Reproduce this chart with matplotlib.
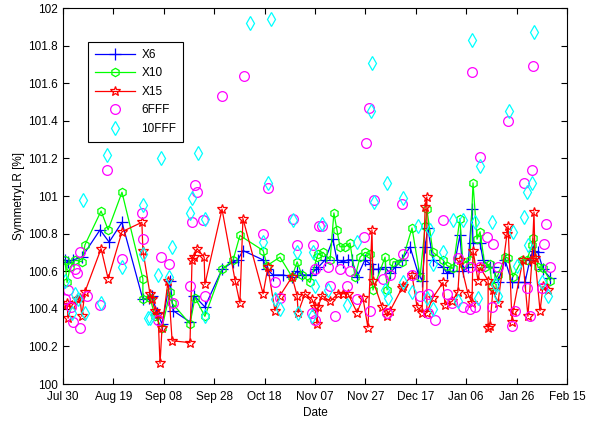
import numpy as np
import pandas as pd
import matplotlib
matplotlib.use('Agg')
from matplotlib import pyplot as plt
import matplotlib.dates as mdates

plt.rcParams['font.family'] = ['Liberation Sans', 'DejaVu Sans']
plt.rcParams['font.size'] = 8.5

start = pd.Timestamp('2013-07-30')

# days after Jul 30, value
x6_days = [0.8, 2.0, 4.0, 7.5, 14.7, 18.3, 23.4, 31.7, 34.1, 35.3, 37.3, 39.3, 42.5, 43.7,
           50.4, 52.0, 56.3, 63.1, 67.5, 69.4, 71.4, 79.4, 81.0, 83.3, 87.3, 90.9, 92.9, 94.8,
           98.0, 100.4, 101.2, 104.0, 107.1, 108.7, 111.1, 113.1, 114.7, 116.7, 119.8, 121.8,
           123.0, 125.0, 127.8, 129.8, 131.7, 134.5, 137.7, 140.9, 142.5, 143.7, 144.8, 146.8,
           150.8, 152.4, 154.8, 157.5, 158.7, 160.7, 162.3, 162.7, 165.5, 166.7, 169.4, 170.6,
           172.6, 175.4, 178.2, 180.6, 183.3, 185.3, 186.5, 188.5, 190.5, 193.3]
x6_vals = [100.66, 100.65, 100.66, 100.675, 100.82, 100.755, 100.86, 100.45, 100.46, 100.47,
           100.38, 100.32, 100.55, 100.39, 100.33, 100.47, 100.41, 100.61, 100.65, 100.66,
           100.71, 100.66, 100.61, 100.58, 100.58, 100.57, 100.60, 100.58, 100.58, 100.61,
           100.62, 100.66, 100.77, 100.66, 100.65, 100.66, 100.66, 100.57, 100.66, 100.64,
           100.61, 100.61, 100.62, 100.59, 100.62, 100.66, 100.73, 100.59, 100.55, 100.73,
           100.83, 100.66, 100.62, 100.59, 100.60, 100.79, 100.60, 100.62, 100.93, 100.75,
           100.75, 100.66, 100.62, 100.62, 100.54, 100.66, 100.54, 100.54, 100.54, 100.66,
           100.71, 100.70, 100.61, 100.565]

x10_days = [0.8, 1.6, 2.8, 4.8, 7.5, 8.7, 15.1, 17.9, 23.4, 31.7, 31.7, 34.5, 36.5, 39.3,
            42.5, 43.3, 50.4, 52.4, 56.3, 63.1, 67.5, 70.2, 79.4, 81.0, 86.1, 90.9, 92.9,
            94.8, 98.0, 100.8, 101.2, 103.2, 106.0, 107.5, 108.7, 109.9, 111.9, 113.9, 115.9,
            117.9, 119.8, 121.8, 123.0, 127.8, 128.6, 131.0, 134.5, 138.5, 141.7, 143.7,
            144.4, 146.8, 150.8, 152.4, 154.8, 157.5, 158.7, 161.5, 162.7, 164.3, 165.5,
            167.5, 169.4, 170.2, 172.6, 175.4, 176.6, 178.6, 182.1, 184.1, 186.1, 186.5,
            188.5, 190.5, 193.3]
x10_vals = [100.66, 100.54, 100.62, 100.66, 100.65, 100.74, 100.92, 100.82, 101.02, 100.56,
            100.45, 100.46, 100.36, 100.30, 100.49, 100.43, 100.32, 100.46, 100.36, 100.61,
            100.66, 100.79, 100.71, 100.63, 100.675, 100.57, 100.65, 100.58, 100.54, 100.675,
            100.69, 100.70, 100.66, 100.91, 100.82, 100.73, 100.73, 100.75, 100.57, 100.675,
            100.70, 100.69, 100.50, 100.675, 100.50, 100.65, 100.65, 100.83, 100.57, 100.84,
            100.93, 100.70, 100.66, 100.63, 100.615, 100.88, 100.64, 100.66, 101.07, 100.77,
            100.81, 100.62, 100.64, 100.52, 100.58, 100.675, 100.67, 100.57, 100.66, 100.66,
            100.74, 100.775, 100.62, 100.615, 100.55]

x15_days = [0.0, 1.6, 2.0, 3.6, 5.6, 6.7, 7.5, 8.7, 15.1, 17.9, 23.4, 31.3, 31.7, 34.5,
            35.3, 36.5, 37.7, 38.5, 39.3, 41.7, 43.3, 50.4, 51.2, 52.0, 53.2, 56.0, 56.3,
            63.1, 68.3, 70.2, 71.4, 79.4, 81.3, 84.1, 86.1, 90.9, 92.9, 93.3, 96.0, 98.8,
            100.0, 100.8, 101.2, 102.8, 106.0, 109.1, 111.1, 113.1, 116.7, 119.0, 121.0,
            122.6, 123.0, 126.6, 128.6, 129.8, 134.5, 134.9, 138.5, 140.5, 142.5, 143.7,
            144.4, 144.4, 146.8, 150.8, 151.6, 154.4, 156.7, 157.5, 160.7, 162.3, 162.7,
            164.7, 165.5, 168.7, 168.7, 169.4, 170.6, 172.6, 176.2, 176.6, 178.2, 178.6,
            182.5, 184.5, 186.1, 186.9, 187.3, 189.3, 190.5, 192.5]
x15_vals = [100.42, 100.43, 100.35, 100.42, 100.45, 100.46, 100.36, 100.49, 100.72, 100.56,
            100.81, 100.86, 100.71, 100.48, 100.45, 100.39, 100.37, 100.11, 100.30, 100.55,
            100.23, 100.22, 100.66, 100.675, 100.72, 100.675, 100.53, 100.93, 100.55, 100.43,
            100.88, 100.48, 100.62, 100.39, 100.47, 100.57, 100.47, 100.38, 100.48, 100.45,
            100.41, 100.32, 100.41, 100.47, 100.44, 100.48, 100.48, 100.48, 100.38, 100.46,
            100.30, 100.82, 100.55, 100.41, 100.36, 100.39, 100.51, 100.52, 100.58, 100.41,
            100.38, 100.94, 100.995, 100.38, 100.46, 100.54, 100.42, 100.44, 100.49, 100.66,
            100.48, 100.43, 100.71, 100.55, 100.62, 100.55, 100.30, 100.31, 100.50, 100.43,
            100.80, 100.84, 100.33, 100.39, 100.66, 100.36, 100.66, 100.915, 100.67, 100.39,
            100.52, 100.50]

fff6_days = [0.8, 2.0, 3.2, 4.0, 4.8, 5.6, 6.7, 6.7, 9.5, 14.7, 17.5, 23.4, 31.3, 31.7,
             37.7, 38.9, 42.1, 43.7, 50.4, 51.2, 52.4, 53.2, 55.6, 56.3, 63.1, 71.8, 79.4,
             81.3, 84.1, 86.1, 91.3, 92.9, 98.8, 99.2, 100.0, 100.0, 101.6, 102.8, 105.2,
             106.0, 107.9, 109.9, 112.7, 113.9, 116.7, 119.4, 120.2, 121.4, 121.8, 123.4,
             127.0, 128.6, 129.8, 134.5, 134.9, 138.5, 141.7, 144.8, 144.8, 147.6, 150.8,
             152.4, 154.4, 156.7, 158.7, 161.5, 161.5, 162.3, 163.5, 165.5, 165.5, 168.3,
             170.2, 170.6, 172.6, 176.6, 178.2, 179.4, 182.9, 184.1, 185.3, 186.1, 186.5,
             190.1, 190.9, 191.7, 193.3]
fff6_vals = [100.45, 100.50, 100.41, 100.33, 100.61, 100.59, 100.30, 100.70, 100.47, 100.42,
             101.14, 100.665, 100.91, 100.77, 100.34, 100.675, 100.64, 100.43, 100.52, 100.86,
             101.06, 101.02, 100.87, 100.47, 101.53, 101.64, 100.80, 101.04, 100.54, 100.46,
             100.88, 100.74, 100.38, 100.74, 100.61, 100.34, 100.84, 100.84, 100.62, 100.52,
             100.36, 100.61, 100.52, 100.60, 100.45, 100.78, 101.28, 101.47, 100.39, 100.98,
             100.56, 100.38, 100.58, 100.96, 100.69, 100.58, 100.47, 100.48, 100.38, 100.34,
             100.87, 100.48, 100.43, 100.67, 100.41, 100.62, 100.40, 101.66, 100.41, 101.21,
             100.62, 100.78, 100.41, 100.745, 100.62, 101.40, 100.31, 100.39, 101.07, 100.51,
             100.36, 101.14, 101.69, 100.51, 100.745, 100.85, 100.62]

fff10_days = [0.8, 3.6, 4.8, 6.0, 7.9, 8.7, 15.1, 17.5, 23.4, 31.7, 31.7, 33.7, 34.5,
              37.7, 38.9, 42.1, 43.3, 50.4, 51.2, 53.6, 56.3, 56.3, 74.2, 79.4, 81.3, 82.5,
              84.1, 86.1, 91.3, 92.9, 93.3, 98.8, 99.2, 100.0, 102.8, 105.2, 112.7, 116.7,
              122.2, 122.6, 123.4, 127.8, 128.6, 129.0, 134.9, 134.9, 138.5, 140.9, 144.4,
              145.6, 146.8, 146.8, 150.8, 154.8, 156.7, 158.7, 162.3, 163.5, 164.7, 165.5,
              170.2, 171.4, 172.6, 177.0, 178.6, 180.2, 182.9, 184.1, 184.5, 186.1, 186.9,
              190.1, 192.5]
fff10_vals = [100.55, 100.38, 100.48, 100.45, 100.98, 100.38, 100.43, 101.22, 100.62, 100.95,
              100.69, 100.35, 100.35, 100.58, 101.20, 100.57, 100.73, 100.91, 100.99, 101.23,
              100.88, 100.36, 101.92, 100.755, 101.07, 101.94, 100.45, 100.40, 100.87, 100.70,
              100.38, 100.36, 100.70, 100.52, 100.85, 100.50, 100.42, 100.755, 101.45, 101.71,
              100.97, 100.50, 101.07, 100.46, 100.99, 100.54, 100.49, 100.84, 100.46, 100.82,
              100.64, 100.40, 100.70, 100.87, 100.44, 100.87, 101.83, 100.86, 100.46, 101.16,
              100.86, 100.53, 100.47, 101.45, 100.81, 100.63, 100.89, 101.02, 100.74, 101.07,
              101.87, 100.54, 100.47]


def to_dates(days):
    return start + pd.to_timedelta(np.array(days), unit='D')


fig = plt.figure(figsize=(5.9, 4.28), dpi=100)
ax = fig.add_axes([0.1068, 0.1028, 0.8542, 0.8785])

lw = 0.9
ax.plot(to_dates(x6_days), x6_vals, '-', color='b', marker='+', ms=8, mew=lw, lw=lw, label='X6')
ax.plot(to_dates(x10_days), x10_vals, '-', color='#00ff00', marker='h', ms=6, mfc='none', mew=lw, lw=lw, label='X10')
ax.plot(to_dates(x15_days), x15_vals, '-', color='r', marker='*', ms=7, mfc='none', mew=lw, lw=lw, label='X15')
ax.plot(to_dates(fff6_days), fff6_vals, 'o', color='#ff00ff', ms=7, mfc='none', mew=lw, label='6FFF')
ax.plot(to_dates(fff10_days), fff10_vals, 'd', color='#00ffff', ms=7, mfc='none', mew=lw, label='10FFF')

ax.set_xlim(start, start + pd.Timedelta(days=200))
ax.set_ylim(100, 102)
ax.set_yticks(np.arange(100, 102.01, 0.2))
ax.set_yticklabels(['100', '100.2', '100.4', '100.6', '100.8', '101',
                    '101.2', '101.4', '101.6', '101.8', '102'])
ax.set_xticks(to_dates(range(0, 201, 20)))
ax.xaxis.set_major_formatter(mdates.DateFormatter('%b %d'))
ax.tick_params(direction='in', length=4, width=0.8, top=True, right=True)
ax.tick_params(axis='x', pad=5)
ax.tick_params(axis='y', pad=4)
for s in ax.spines.values():
    s.set_linewidth(0.8)

ax.set_xlabel('Date', labelpad=3)
ax.set_ylabel('SymmetryLR [%]', labelpad=2)

leg = ax.legend(loc='upper left', bbox_to_anchor=(0.05, 0.91), fancybox=False,
                framealpha=1, edgecolor='k', handlelength=3.4, handletextpad=0.5,
                borderpad=0.6, labelspacing=0.55, borderaxespad=0)
leg.get_frame().set_linewidth(0.8)

fig.savefig('out.png', dpi=100)
